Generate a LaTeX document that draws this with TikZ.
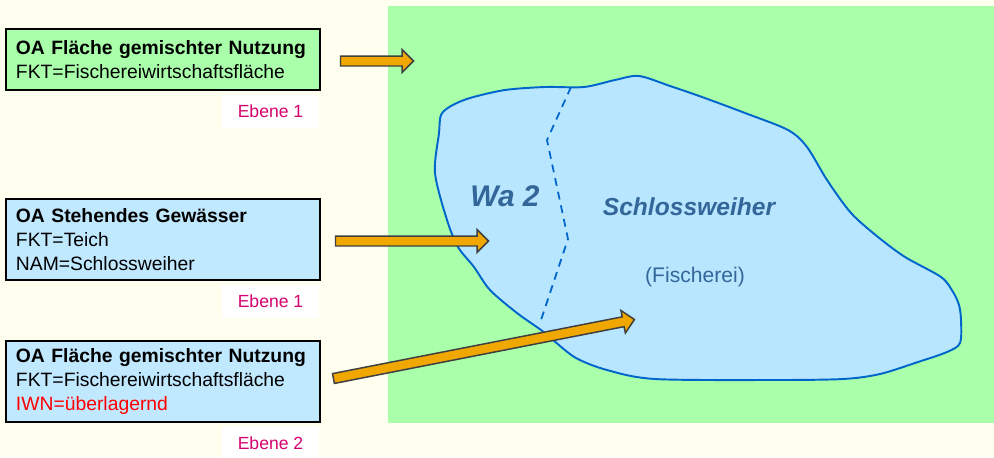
\documentclass[tikz,border=0pt]{standalone}
\usepackage{fontspec}
\setmainfont{Liberation Sans}
\usepackage{xcolor}
\usepackage{tikz}
\usetikzlibrary{calc}
\usetikzlibrary{shapes.arrows}

\definecolor{hintergrund}{RGB}{255,255,240}
\definecolor{wiese}{RGB}{170,255,170}
\definecolor{wasser}{RGB}{184,230,255}
\definecolor{kastenblau}{RGB}{192,232,255}
\definecolor{ufer}{RGB}{0,102,204}
\definecolor{schrift}{RGB}{51,102,153}
\definecolor{ebenenrot}{RGB}{214,0,110}
\definecolor{pfeilgelb}{RGB}{240,168,0}

\tikzset{
	kasten/.style={draw=black, line width=1.1pt, anchor=north west, align=left, text width=5.88cm, inner xsep=0.2cm, font=\fontsize{11}{13.6}\selectfont},
	ebene/.style={fill=white, minimum width=1.94cm, minimum height=0.66cm, text=ebenenrot, font=\fontsize{10}{12}\selectfont},
	pfeil/.style={single arrow, draw=black!75, fill=pfeilgelb, line width=0.85pt, inner sep=0.085cm, single arrow head extend=0.13cm, single arrow tip angle=90},
	seetext/.style={text=schrift, font=\bfseries\itshape#1},
}

\begin{document}
\begin{tikzpicture}[x=0.02cm,y=-0.02cm]
	\fill[hintergrund] (0,0) rectangle (994,457);
	\useasboundingbox (0,0) rectangle (994,457);
	% Flaeche und Weiher
	\fill[wiese] (388,6) rectangle (994,423);
	\filldraw[fill=wasser, draw=ufer, line width=1.1pt] plot[smooth cycle, tension=0.5] coordinates {
		(441,115) (451,106) (470,98) (505,90) (545,87) (584,87) (615,80) (639,76)
		(670,86) (702,97) (745,113) (788,130) (807,147) (827,180) (851,213) (878,237)
		(905,257) (941,277) (953,292) (959,305) (961,320) (960,343) (947,352) (918,362)
		(880,374) (843,379) (772,380) (655,379) (607,370) (576,358) (553,340) (541,330)
		(517,313) (490,290) (474,267) (458,247) (447,220) (435,173) (439,133)};
	\draw[ufer, line width=1pt, dash pattern=on 4.5pt off 3.4pt] (571,87) -- (547,140) -- (568,239) -- (540,323);
	\node[seetext=\fontsize{17}{20}\selectfont] (wa) at (505,196) {Wa 2};
	\node[seetext=\fontsize{14}{17}\selectfont] (name) at (689,207) {Schlossweiher};
	\node[text=schrift, font=\fontsize{12}{14}\selectfont] (nutzung) at (695,277) {(Fischerei)};
	% Objektarten
	\node[kasten, fill=wiese, minimum height=1.22cm] (oa1) at (5,28) {\textbf{OA Fläche gemischter Nutzung}\\FKT=Fischereiwirtschaftsfläche};
	\node[ebene] (ebene1) at (270.5,111.5) {Ebene 1};
	\node[kasten, fill=kastenblau, minimum height=1.62cm] (oa2) at (5,198) {\textbf{OA Stehendes Gewässer}\\FKT=Teich\\NAM=Schlossweiher};
	\node[ebene] (ebene2) at (270.5,301) {Ebene 1};
	\node[kasten, fill=kastenblau, minimum height=1.62cm] (oa3) at (5,340) {\textbf{OA Fläche gemischter Nutzung}\\FKT=Fischereiwirtschaftsfläche\\\textcolor{red}{IWN=überlagernd}};
	\node[ebene] (ebene3) at (270.5,443.5) {Ebene 2};
	% Pfeile
	\coordinate (p1a) at (338,61);
	\coordinate (p1b) at (411,61);
	\coordinate (p2a) at (333,241);
	\coordinate (p2b) at (486,241);
	\coordinate (p3a) at (331,379);
	\coordinate (p3b) at (632,320);
	\path let \p1=($(p1b)-(p1a)$), \n1={veclen(\x1,\y1)} in (p1a) -- (p1b) node[midway, sloped, pfeil, minimum height=\n1] (pfeil1) {};
	\path let \p1=($(p2b)-(p2a)$), \n1={veclen(\x1,\y1)} in (p2a) -- (p2b) node[midway, sloped, pfeil, minimum height=\n1] (pfeil2) {};
	\path let \p1=($(p3b)-(p3a)$), \n1={veclen(\x1,\y1)} in (p3a) -- (p3b) node[midway, sloped, pfeil, minimum height=\n1] (pfeil3) {};
\end{tikzpicture}
\end{document}
